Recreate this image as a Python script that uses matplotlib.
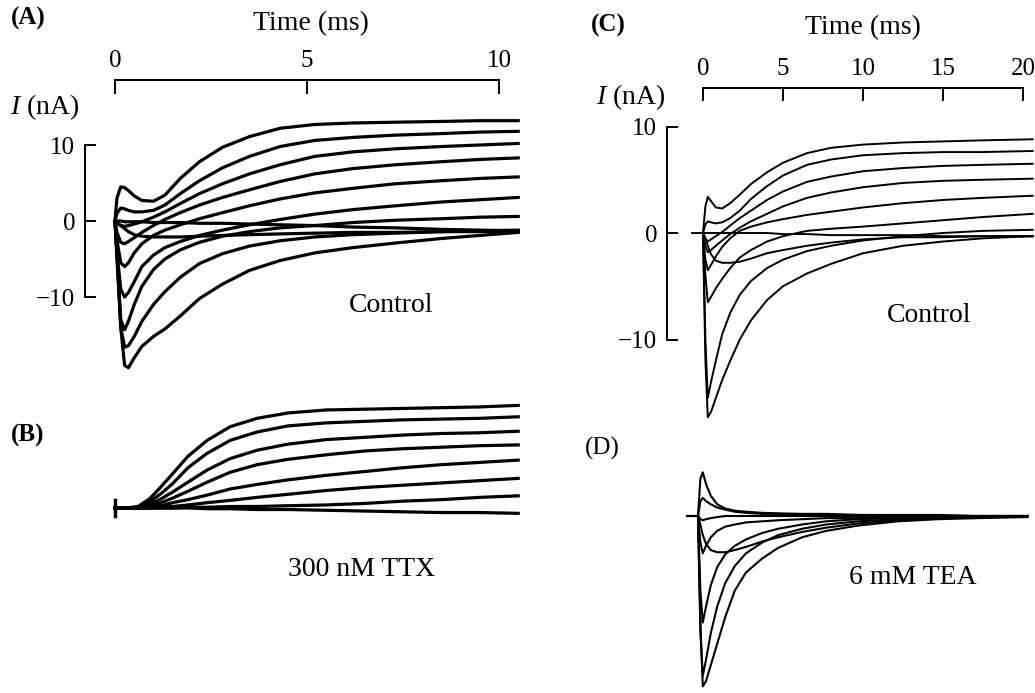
import matplotlib
matplotlib.use("Agg")
import matplotlib.pyplot as plt

W, H = 1035, 693

# ---- (A) control, 10 ms sweep: time (ms) and current (nA)
TA = [0, 0.05, 0.15, 0.25, 0.35, 0.5, 0.7, 1.0, 1.3, 1.7, 2.2, 2.8, 3.5, 4.3, 5.2, 6.2, 7.3, 8.5, 9.5, 10.5]
A1 = [0, 3.0, 4.5, 4.4, 4.0, 3.3, 2.7, 2.6, 3.4, 5.6, 7.8, 9.7, 11.1, 12.2, 12.7, 12.9, 13.0, 13.1, 13.2, 13.2]
A2 = [0, 1.0, 1.7, 1.6, 1.4, 1.2, 1.2, 1.4, 2.1, 3.6, 5.3, 7.0, 8.5, 9.8, 10.6, 11.0, 11.3, 11.5, 11.7, 11.8]
A3 = [0, -0.3, -0.6, -0.7, -0.6, -0.4, -0.1, 0.5, 1.2, 2.3, 3.6, 4.9, 6.2, 7.4, 8.5, 9.1, 9.5, 9.8, 10.0, 10.2]
A4 = [0, -1.5, -2.8, -3.0, -2.7, -2.2, -1.5, -0.6, 0.2, 1.1, 2.1, 3.1, 4.1, 5.2, 6.2, 6.9, 7.4, 7.8, 8.1, 8.3]
A5 = [0, -2.5, -5.5, -6.0, -5.5, -4.2, -3.0, -1.9, -1.2, -0.5, 0.3, 1.1, 2.0, 2.9, 3.7, 4.3, 4.9, 5.3, 5.6, 5.8]
A6 = [0, -4, -9, -10, -9.4, -8, -6, -4.5, -3.5, -2.7, -1.9, -1.2, -0.5, 0.2, 0.9, 1.5, 2.0, 2.5, 2.8, 3.1]
A7 = [0, -5, -13, -14.3, -13.2, -11, -8.6, -6.4, -5.0, -3.8, -2.8, -2.0, -1.4, -0.9, -0.6, -0.2, 0.1, 0.3, 0.5, 0.6]
A8 = [0, -4, -14, -16.6, -16.4, -15.2, -13.2, -11, -9.3, -7.4, -5.6, -4.3, -3.3, -2.6, -2.1, -1.8, -1.6, -1.4, -1.3, -1.2]
A9 = [0, -4, -14, -19, -19.3, -18, -16.5, -15.2, -14.2, -12.5, -10.2, -8.3, -6.5, -5.2, -4.2, -3.5, -2.9, -2.3, -1.9, -1.5]
A10 = [0, -0.2, -0.6, -1.0, -1.4, -1.8, -2.0, -2.1, -2.1, -2.1, -2.0, -1.9, -1.8, -1.7, -1.6, -1.5, -1.5, -1.4, -1.4, -1.4]
A11 = [0, 0, 0, -0.1, -0.1, -0.1, -0.1, -0.2, -0.2, -0.2, -0.3, -0.3, -0.4, -0.5, -0.6, -0.8, -0.9, -1.1, -1.2, -1.3]

# ---- (B) 300 nM TTX, same time base
TB = [0, 0.3, 0.6, 0.9, 1.2, 1.5, 1.9, 2.4, 3.0, 3.7, 4.5, 5.5, 6.5, 7.5, 8.5, 9.5, 10.5]
B1 = [0, 0, 0.2, 1.2, 2.8, 4.5, 6.8, 8.9, 10.7, 11.8, 12.5, 12.9, 13.0, 13.1, 13.2, 13.3, 13.5]
B2 = [0, 0, 0.1, 0.8, 1.9, 3.2, 5.3, 7.2, 8.9, 10.0, 10.8, 11.2, 11.4, 11.6, 11.7, 11.8, 12.0]
B3 = [0, 0, 0, 0.5, 1.2, 2.1, 3.4, 5.0, 6.5, 7.6, 8.4, 9.0, 9.3, 9.6, 9.8, 9.9, 10.1]
B4 = [0, 0, 0, 0.3, 0.7, 1.3, 2.2, 3.4, 4.7, 5.7, 6.4, 7.0, 7.5, 7.8, 8.0, 8.2, 8.3]
B5 = [0, 0, 0, 0.1, 0.3, 0.7, 1.1, 1.7, 2.5, 3.1, 3.7, 4.3, 4.8, 5.3, 5.7, 6.0, 6.3]
B6 = [0, 0, 0, 0, 0.1, 0.2, 0.4, 0.7, 1.0, 1.4, 1.8, 2.3, 2.7, 3.0, 3.3, 3.6, 3.9]
B7 = [0, 0, 0, 0, 0, 0, 0.1, 0.1, 0.2, 0.2, 0.3, 0.4, 0.6, 0.9, 1.1, 1.4, 1.6]
B8 = [0, 0, 0, 0, 0, 0, 0, -0.1, -0.1, -0.2, -0.2, -0.3, -0.4, -0.5, -0.6, -0.6, -0.7]
B_BLIP_T = [0, 0]
B_BLIP_I = [1.0, -1.0]

# ---- (C) control, 20 ms sweep
TC = [0, 0.15, 0.3, 0.5, 0.8, 1.2, 1.7, 2.3, 3.0, 4.0, 5.0, 6.5, 8.0, 10.0, 12.5, 15.0, 17.5, 20.6]
C1 = [0, 2.5, 3.4, 3.0, 2.4, 2.3, 2.8, 3.6, 4.6, 5.7, 6.6, 7.5, 8.0, 8.3, 8.5, 8.6, 8.7, 8.8]
C2 = [0, 0.8, 1.1, 1.0, 0.9, 1.0, 1.4, 2.1, 3.2, 4.4, 5.4, 6.4, 6.9, 7.3, 7.5, 7.6, 7.6, 7.7]
C3 = [0, -0.5, -0.8, -0.6, -0.3, 0.1, 0.7, 1.4, 2.1, 3.1, 3.9, 4.8, 5.3, 5.8, 6.1, 6.3, 6.4, 6.5]
C4 = [0, -1.2, -1.8, -1.6, -1.2, -0.7, -0.1, 0.5, 1.1, 1.8, 2.5, 3.3, 3.8, 4.3, 4.7, 4.9, 5.0, 5.1]
C5 = [0, -2.5, -3.5, -3.0, -2.2, -1.3, -0.5, 0.2, 0.6, 1.0, 1.3, 1.7, 2.0, 2.4, 2.8, 3.1, 3.3, 3.5]
C6 = [0, -4.0, -6.5, -6.0, -5.2, -4.3, -3.3, -2.3, -1.6, -0.8, -0.3, 0.2, 0.4, 0.6, 0.9, 1.2, 1.5, 1.8]
C7 = [0, -10, -15.5, -14, -12, -9.5, -7.5, -5.8, -4.5, -3.3, -2.5, -1.7, -1.2, -0.7, -0.3, 0.0, 0.2, 0.3]
C8 = [0, -12, -17.3, -16.8, -15.5, -13.8, -12, -10, -8.2, -6.3, -5.0, -3.8, -2.9, -1.9, -1.2, -0.8, -0.5, -0.3]
C9 = [0, -0.5, -1.2, -2.0, -2.6, -2.8, -2.8, -2.7, -2.4, -1.9, -1.6, -1.2, -0.9, -0.6, -0.4, -0.4, -0.3, -0.3]
C10 = [0, 0, 0, 0, 0, 0, 0, 0, 0, 0, -0.1, -0.1, -0.2, -0.2, -0.2, -0.3, -0.3, -0.3]

# ---- (D) 6 mM TEA, same time base as C
D1 = [0, 3.5, 4.1, 3.0, 1.9, 1.1, 0.7, 0.5, 0.4, 0.3, 0.25, 0.2, 0.2, 0.1, 0.1, 0.1, 0.0, 0.0]
D2 = [0, 1.4, 1.7, 1.4, 1.1, 0.8, 0.6, 0.4, 0.3, 0.2, 0.2, 0.1, 0.1, 0.1, 0.0, 0.0, 0.0, 0.0]
D3 = [0, -0.3, -0.4, -0.3, -0.2, -0.1, 0, 0, 0, 0, 0, 0, 0, 0, 0, 0, 0, 0]
D4 = [0, -2.5, -3.5, -2.8, -2.0, -1.4, -1.0, -0.8, -0.6, -0.5, -0.4, -0.3, -0.2, -0.2, -0.1, -0.1, 0, 0]
D5 = [0, -0.8, -1.8, -2.6, -3.2, -3.4, -3.4, -3.2, -2.9, -2.4, -2.0, -1.5, -1.1, -0.7, -0.4, -0.2, -0.1, 0]
D6 = [0, -7, -10, -8.5, -6.5, -4.8, -3.6, -2.8, -2.2, -1.6, -1.2, -0.8, -0.5, -0.3, -0.2, -0.1, 0, 0]
D7 = [0, -11, -15, -13.5, -11, -8.5, -6.3, -4.7, -3.5, -2.5, -1.8, -1.2, -0.8, -0.5, -0.3, -0.1, -0.1, 0]
D8 = [0, -10, -16, -15.5, -14, -12, -9.5, -7.0, -5.3, -4.0, -3.0, -2.0, -1.4, -0.9, -0.5, -0.3, -0.2, -0.1]

HOLD_T = [-0.7, 0]
HOLD_I = [0, 0]

TICKS_A = [0, 5, 10]
TICKS_C = [0, 5, 10, 15, 20]
TICKS_I = [-10, 0, 10]

plt.rcParams['font.family'] = ['Liberation Serif', 'DejaVu Serif']
plt.rcParams['mathtext.fontset'] = 'custom'
plt.rcParams['mathtext.it'] = 'Liberation Serif:italic'
plt.rcParams['mathtext.rm'] = 'Liberation Serif'
FS_TICK = 18
FS_TEXT = 20


def box(left, top, right, bottom):
    # pixel box -> figure fraction
    return [left / W, 1 - bottom / H, (right - left) / W, (bottom - top) / H]


def label(x, y, s, size=FS_TEXT, **kw):
    fig.text(x / W, 1 - y / H, s, ha='center', va='center', fontsize=size, **kw)


def scale_bars(ax, xticks, xlen):
    for s in ['right', 'bottom']:
        ax.spines[s].set_visible(False)
    for s in ['top', 'left']:
        ax.spines[s].set_linewidth(1.4)
    ax.spines['top'].set_bounds(xticks[0], xticks[-1])
    ax.spines['left'].set_bounds(TICKS_I[0], TICKS_I[-1])
    ax.xaxis.tick_top()
    ax.set_xticks(xticks)
    ax.set_yticks(TICKS_I)
    ax.tick_params(axis='x', direction='in', length=xlen, width=1.4, pad=6, labelsize=FS_TICK)
    ax.tick_params(axis='y', direction='in', length=8, width=1.4, pad=7, labelsize=FS_TICK)
    ax.patch.set_visible(False)


fig = plt.figure(figsize=(W / 100, H / 100), dpi=100)

# pixel -> data calibration: A/B 38.4 px per ms, 7.6 px per nA; C/D 16 px per ms, 10.65 px per nA
axA = fig.add_axes(box(85, 80, 530, 380))
axA.set_xlim((85 - 115) / 38.4, (530 - 115) / 38.4)
axA.set_ylim((221 - 380) / 7.6, (221 - 80) / 7.6)
scale_bars(axA, TICKS_A, 10)
for tr in [A1, A2, A3, A4, A5, A6, A7, A8, A9, A10, A11]:
    axA.plot(TA, tr, color='black', lw=2.3, clip_on=False, solid_joinstyle='round')

axB = fig.add_axes(box(85, 385, 530, 560))
axB.set_xlim((85 - 115) / 38.4, (530 - 115) / 38.4)
axB.set_ylim((508 - 560) / 7.6, (508 - 385) / 7.6)
axB.axis('off')
for tr in [B1, B2, B3, B4, B5, B6, B7, B8]:
    axB.plot(TB, tr, color='black', lw=2.3, clip_on=False, solid_joinstyle='round')
axB.plot(B_BLIP_T, B_BLIP_I, color='black', lw=2.5, clip_on=False)

axC = fig.add_axes(box(667, 88, 1035, 430))
axC.set_xlim((667 - 703) / 16.0, (1035 - 703) / 16.0)
axC.set_ylim((233 - 430) / 10.65, (233 - 88) / 10.65)
scale_bars(axC, TICKS_C, 9)
axC.plot(HOLD_T, HOLD_I, color='black', lw=1.4, clip_on=False)
for tr in [C1, C2, C3, C4, C5, C6, C7, C8, C9, C10]:
    axC.plot(TC, tr, color='black', lw=1.4, clip_on=False, solid_joinstyle='round')

axD = fig.add_axes(box(667, 440, 1035, 693))
axD.set_xlim((667 - 698) / 16.0, (1035 - 698) / 16.0)
axD.set_ylim((516 - 693) / 10.65, (516 - 440) / 10.65)
axD.axis('off')
axD.plot(HOLD_T, HOLD_I, color='black', lw=1.6, clip_on=False)
for tr in [D1, D2, D3, D4, D5, D6, D7, D8]:
    axD.plot(TC, tr, color='black', lw=1.5, clip_on=False, solid_joinstyle='round')

# panel letters and annotations
label(28, 18, '(A)', size=FS_TICK, fontweight='bold')
label(311, 24, 'Time (ms)')
label(45, 107, '$I$ (nA)')
label(391, 305, 'Control')
label(28, 435, '(B)', size=FS_TICK, fontweight='bold')
label(362, 570, '300 nM TTX')
label(608, 25, '(C)', size=FS_TICK, fontweight='bold')
label(863, 28, 'Time (ms)')
label(631, 97, '$I$ (nA)')
label(929, 315, 'Control')
label(602, 448, '(D)', size=FS_TICK)
label(913, 577, '6 mM TEA')

fig.savefig('out.png', dpi=100)
